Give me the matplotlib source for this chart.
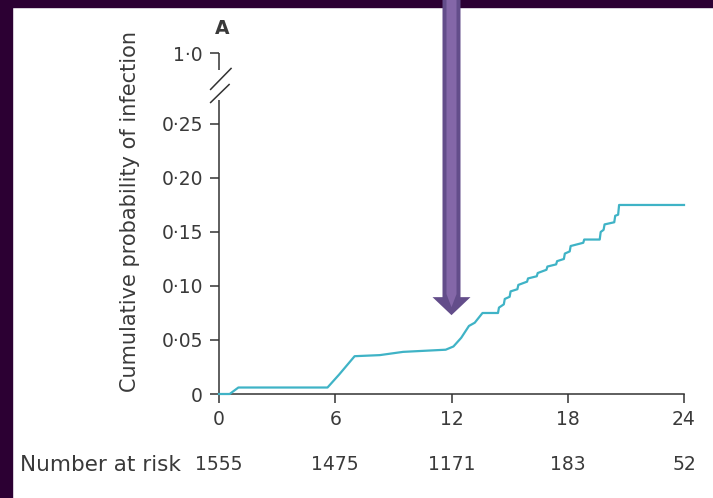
import numpy as np
import matplotlib
matplotlib.use('Agg')
import matplotlib.pyplot as plt
from matplotlib.patches import Polygon, Rectangle
from matplotlib.transforms import IdentityTransform

plt.rcParams['font.family'] = ['DejaVu Sans']

# Curva de incidência cumulativa (meses, probabilidade)
meses = [0, 0.55, 1.0, 5.6, 6.2, 7.0, 8.3, 9.5, 11.7, 12.1, 12.5, 12.9, 13.2, 13.6,
         14.4, 14.45, 14.7, 14.75, 15.0, 15.05, 15.4, 15.45, 15.9, 15.95, 16.4, 16.45,
         16.9, 16.95, 17.4, 17.45, 17.8, 17.85, 18.1, 18.15, 18.8, 18.85, 19.65, 19.7,
         19.85, 19.9, 20.4, 20.45, 20.6, 20.65, 24]
prob = [0, 0, 0.006, 0.006, 0.018, 0.035, 0.036, 0.039, 0.041, 0.044, 0.052, 0.063, 0.066, 0.075,
        0.075, 0.080, 0.083, 0.088, 0.090, 0.095, 0.097, 0.101, 0.104, 0.107, 0.109, 0.112,
        0.115, 0.118, 0.120, 0.123, 0.125, 0.130, 0.132, 0.137, 0.140, 0.143, 0.143, 0.150,
        0.152, 0.157, 0.159, 0.165, 0.166, 0.175, 0.175]

x_ticks = [0, 6, 12, 18, 24]
em_risco = [1555, 1475, 1171, 183, 52]
y_ticks = [0, 0.05, 0.10, 0.15, 0.20, 0.25]
y_labels = ['0', '0·05', '0·10', '0·15', '0·20', '0·25']
y_topo = 0.3157  # posição do rótulo 1·0 depois da quebra

cor_texto = '#3a3a3a'
cor_linha = '#3fb3c6'
fs = 13.5

fig = plt.figure(figsize=(7.13, 4.98), dpi=100)
ax = fig.add_axes([219 / 713, 1 - 394 / 498, 465 / 713, 341 / 498])

ax.plot(meses, prob, color=cor_linha, lw=1.6, clip_on=False, zorder=3)

ax.set_xlim(0, 24)
ax.set_ylim(0, y_topo)
ax.set_xticks(x_ticks)
ax.set_xticklabels([str(t) for t in x_ticks])
ax.set_yticks(y_ticks + [y_topo])
ax.set_yticklabels(y_labels + ['1·0'])
ax.tick_params(direction='out', length=6.5, width=1.1, color='#333333',
               labelsize=fs, labelcolor=cor_texto, pad=5)

for s in ['top', 'right', 'left']:
    ax.spines[s].set_visible(False)
ax.spines['bottom'].set_linewidth(1.1)
ax.spines['bottom'].set_color('#333333')

# eixo y com quebra
kw = dict(color='#333333', lw=1.1, clip_on=False, solid_capstyle='butt')
ax.plot([0, 0], [0, 0.272], **kw)
ax.plot([0, 0], [0.300, y_topo], **kw)
ax.plot([-0.46, 0.65], [0.2815, 0.3019], **kw)
ax.plot([-0.46, 0.55], [0.2694, 0.2870], **kw)

ax.text(0.15, 0.338, 'A', fontsize=fs, fontweight='bold', color=cor_texto,
        ha='center', va='center', clip_on=False)

fig.text(130 / 713, 1 - 211 / 498, 'Cumulative probability of infection',
         rotation=90, ha='center', va='center', fontsize=15, color=cor_texto)

# número em risco
trans = ax.get_xaxis_transform()
for x, n in zip(x_ticks, em_risco):
    ax.text(x, -71 / 341, str(n), transform=trans, ha='center', va='center',
            fontsize=fs, color=cor_texto)
fig.text(20 / 713, 1 - 465 / 498, 'Number at risk', ha='left', va='center',
         fontsize=15.5, color=cor_texto)

# moldura escura
fig.patches.append(Rectangle((0, 1 - 7 / 498), 1, 7 / 498, transform=fig.transFigure,
                             color='#2c0033', zorder=5))
fig.patches.append(Rectangle((0, 0), 12 / 713, 1, transform=fig.transFigure,
                             color='#2c0033', zorder=5))

# seta apontando para 12 meses
fig.canvas.draw()
px, py = ax.transData.transform((12, 0.073))
H = fig.bbox.height
seta = [(px - 9, H), (px + 9, H), (px + 9, py + 18), (px + 19, py + 18), (px, py),
        (px - 19, py + 18), (px - 9, py + 18)]
fig.patches.append(Polygon(seta, closed=True, transform=IdentityTransform(),
                           facecolor='#634d8a', edgecolor='none', zorder=6))
faixa = [(px - 5, H), (px + 5, H), (px + 5, py + 21), (px, py + 8), (px - 5, py + 21)]
fig.patches.append(Polygon(faixa, closed=True, transform=IdentityTransform(),
                           facecolor='#8467a8', edgecolor='none', zorder=7))

fig.savefig('out.png', dpi=100)
